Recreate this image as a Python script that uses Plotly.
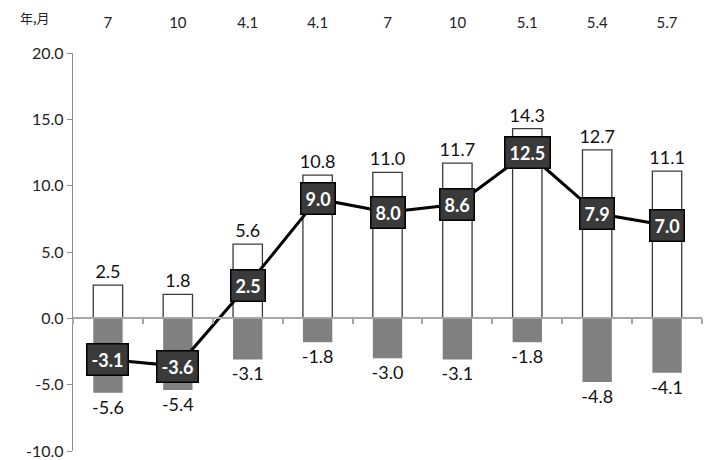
import plotly.graph_objects as go

periods = ["7", "10", "4.1", "4.1", "7", "10", "5.1", "5.4", "5.7"]
positive = [2.5, 1.8, 5.6, 10.8, 11.0, 11.7, 14.3, 12.7, 11.1]
negative = [-5.6, -5.4, -3.1, -1.8, -3.0, -3.1, -1.8, -4.8, -4.1]
net = [-3.1, -3.6, 2.5, 9.0, 8.0, 8.6, 12.5, 7.9, 7.0]
y_ticks = [-10, -5, 0, 5, 10, 15, 20]

pos = list(range(len(periods)))
bounds = [p - 0.5 for p in pos] + [pos[-1] + 0.5]
FONT = "Lato"

# the page body adds an 8px offset on the top and left
OFF = 8
W, H = 716 - OFF, 460 - OFF
PL, PR, PT, PB = 73, 702, 53, 451  # plot area in window pixels

fig = go.Figure()
fig.add_trace(go.Bar(
    x=pos, y=positive, width=0.42,
    marker=dict(color="white", line=dict(color="#3a3a3a", width=1.3)),
    text=[f"{v:.1f}" for v in positive], textposition="outside",
    constraintext="none",
    textfont=dict(family=FONT, size=18, color="#111111"),
    cliponaxis=False, hoverinfo="skip",
))
fig.add_trace(go.Bar(
    x=pos, y=negative, width=0.42,
    marker=dict(color="#808080", line=dict(color="#808080", width=0)),
    text=[f"{v:.1f}" for v in negative], textposition="outside",
    constraintext="none",
    textfont=dict(family=FONT, size=18, color="#111111"),
    cliponaxis=False, hoverinfo="skip",
))
fig.add_trace(go.Scatter(
    x=pos, y=net, mode="lines",
    line=dict(color="black", width=3), hoverinfo="skip",
))
# invisible trace to carry the zero-crossing category axis
fig.add_trace(go.Scatter(
    x=pos, y=net, xaxis="x2", mode="markers",
    marker=dict(opacity=0), hoverinfo="skip", showlegend=False,
))

for p, v in zip(pos, net):
    fig.add_annotation(
        x=p, y=v, xref="x", yref="y", text=f"{v:.1f}", showarrow=False,
        font=dict(family=FONT, size=18, color="white", weight="bold"),
        bgcolor="#3a3a3a", bordercolor="#000000", borderwidth=1.5, borderpad=4,
    )

fig.add_annotation(
    x=(18 - PL) / (PR - PL), y=1.0, xref="paper", yref="paper",
    xanchor="left", yanchor="bottom",
    yshift=24, text="年,月", showarrow=False,
    font=dict(family="Noto Sans CJK SC", size=13, color="#222222"),
)

fig.update_layout(
    width=W, height=H,
    margin=dict(l=PL - OFF, r=716 - PR, t=PT - OFF, b=460 - PB),
    paper_bgcolor="white", plot_bgcolor="white",
    barmode="relative", showlegend=False,
    xaxis=dict(
        range=[-0.5, len(periods) - 0.5], side="top", automargin=False,
        tickmode="array", tickvals=pos, ticktext=periods,
        ticks="outside", ticklen=18, tickcolor="rgba(0,0,0,0)",
        showline=False, showgrid=False, zeroline=False,
        tickfont=dict(family=FONT, size=15, color="#222222"),
    ),
    xaxis2=dict(
        range=[-0.5, len(periods) - 0.5], overlaying="x", automargin=False,
        anchor="free", position=(0 - y_ticks[0]) / (y_ticks[-1] - y_ticks[0]),
        tickmode="array", tickvals=bounds, showticklabels=False,
        ticks="outside", ticklen=5, tickwidth=1.5, tickcolor="#a6a6a6",
        showline=True, linecolor="#a6a6a6", linewidth=2,
        showgrid=False, zeroline=False,
    ),
    yaxis=dict(
        range=[y_ticks[0], y_ticks[-1]], tickmode="array", tickvals=y_ticks,
        ticktext=[f"{v:.1f}" for v in y_ticks], automargin=False,
        ticks="outside", ticklen=5, tickcolor="#8c8c8c",
        showline=True, linecolor="#8c8c8c", linewidth=1.3,
        showgrid=False, zeroline=False,
        tickfont=dict(family=FONT, size=16, color="#222222"),
    ),
)

fig.write_html("out.html")
